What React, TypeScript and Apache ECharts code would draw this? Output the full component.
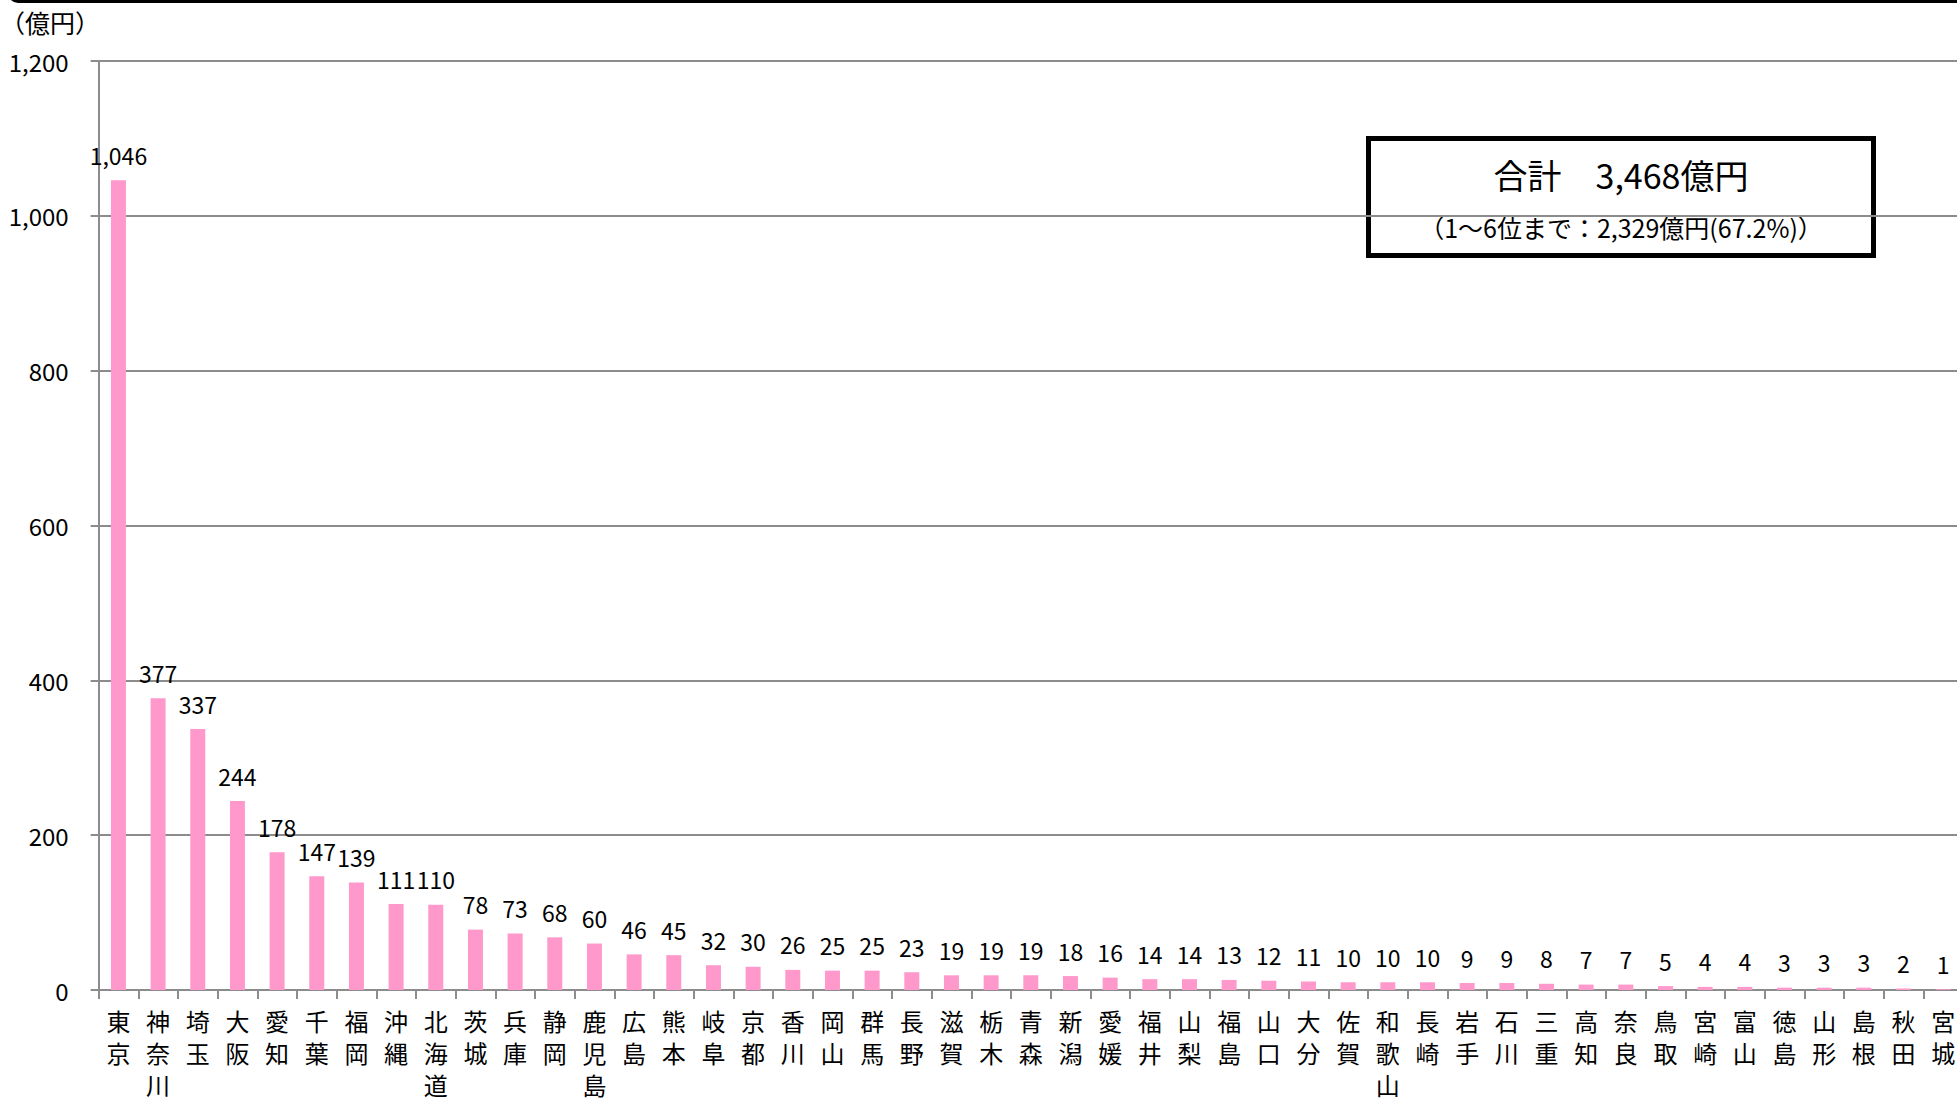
import React, { useEffect, useRef } from "react";
import * as echarts from "echarts";

const prefectures = [
  "東京", "神奈川", "埼玉", "大阪", "愛知", "千葉", "福岡", "沖縄", "北海道", "茨城",
  "兵庫", "静岡", "鹿児島", "広島", "熊本", "岐阜", "京都", "香川", "岡山", "群馬",
  "長野", "滋賀", "栃木", "青森", "新潟", "愛媛", "福井", "山梨", "福島", "山口",
  "大分", "佐賀", "和歌山", "長崎", "岩手", "石川", "三重", "高知", "奈良", "鳥取",
  "宮崎", "富山", "徳島", "山形", "島根", "秋田", "宮城",
];

const amounts = [
  1046, 377, 337, 244, 178, 147, 139, 111, 110, 78,
  73, 68, 60, 46, 45, 32, 30, 26, 25, 25,
  23, 19, 19, 19, 18, 16, 14, 14, 13, 12,
  11, 10, 10, 10, 9, 9, 8, 7, 7, 5,
  4, 4, 3, 3, 3, 2, 1,
];

const yTicks = { min: 0, max: 1200, interval: 200 };
const unitLabel = "（億円）";
const boxLine1 = "合計　3,468億円";
const boxLine2 = "（1～6位まで：2,329億円(67.2%)）";

const FONT = "'Noto Sans CJK JP', 'Noto Sans', sans-serif";

const addCommas = (v: number) =>
  String(v).replace(/\B(?=(\d{3})+(?!\d))/g, ",");

export default function App() {
  const ref = useRef<HTMLDivElement>(null);

  useEffect(() => {
    if (!ref.current) return;
    const chart = echarts.init(ref.current, undefined, { renderer: "svg" });
    chart.setOption({
      animation: false,
      backgroundColor: "#ffffff",
      textStyle: { fontFamily: FONT },
      grid: {
        left: 98.6,
        right: -6,
        top: 61,
        bottom: 109,
        containLabel: false,
        outerBoundsMode: "none",
      },
      xAxis: {
        type: "category",
        data: prefectures,
        axisLine: { lineStyle: { color: "#8c8c8c", width: 2 } },
        axisTick: { show: true, length: 9, lineStyle: { color: "#8c8c8c", width: 2 } },
        axisLabel: {
          interval: 0,
          margin: 14,
          color: "#000",
          fontSize: 24,
          lineHeight: 32,
          fontFamily: FONT,
          formatter: (v: string) => v.split("").join("\n"),
          verticalAlign: "top",
        },
      },
      yAxis: {
        type: "value",
        min: yTicks.min,
        max: yTicks.max,
        interval: yTicks.interval,
        axisLine: { show: true, lineStyle: { color: "#8c8c8c", width: 2 } },
        axisTick: { show: true, length: 8, lineStyle: { color: "#8c8c8c", width: 2 } },
        splitLine: { show: true, lineStyle: { color: "#8c8c8c", width: 2 } },
        axisLabel: {
          margin: 30,
          color: "#000",
          fontSize: 24,
          fontFamily: FONT,
          formatter: (v: number) => addCommas(v),
        },
      },
      series: [
        {
          type: "bar",
          data: amounts,
          barWidth: 15,
          itemStyle: { color: "#ff99cc" },
          label: {
            show: true,
            position: "top",
            distance: 14,
            color: "#000",
            fontSize: 23,
            fontFamily: FONT,
            formatter: (p: any) => addCommas(p.value),
          },
        },
      ],
      graphic: [
        {
          type: "rect",
          shape: { x: 8, y: -30, width: 2000, height: 33, r: 10 },
          style: { fill: "#000" },
          silent: true,
        },
        {
          type: "text",
          x: 0,
          y: 22,
          style: {
            text: unitLabel,
            fontSize: 25,
            fontFamily: FONT,
            fill: "#000",
            verticalAlign: "middle",
            align: "left",
          },
        },
        {
          type: "rect",
          shape: { x: 1368.5, y: 138.5, width: 505, height: 117 },
          style: { fill: "#fff", stroke: "#000", lineWidth: 5 },
        },
        {
          type: "text",
          x: 1621,
          y: 174,
          style: {
            text: boxLine1,
            fontSize: 34,
            fontFamily: FONT,
            fill: "#000",
            align: "center",
            verticalAlign: "middle",
          },
        },
        {
          type: "text",
          x: 1621,
          y: 227,
          style: {
            text: boxLine2,
            fontSize: 25,
            fontFamily: FONT,
            fill: "#000",
            align: "center",
            verticalAlign: "middle",
          },
        },
      ],
    });
    return () => chart.dispose();
  }, []);

  return (
    <div
      ref={ref}
      style={{ position: "fixed", left: 0, top: 0, width: 1957, height: 1099 }}
    />
  );
}
